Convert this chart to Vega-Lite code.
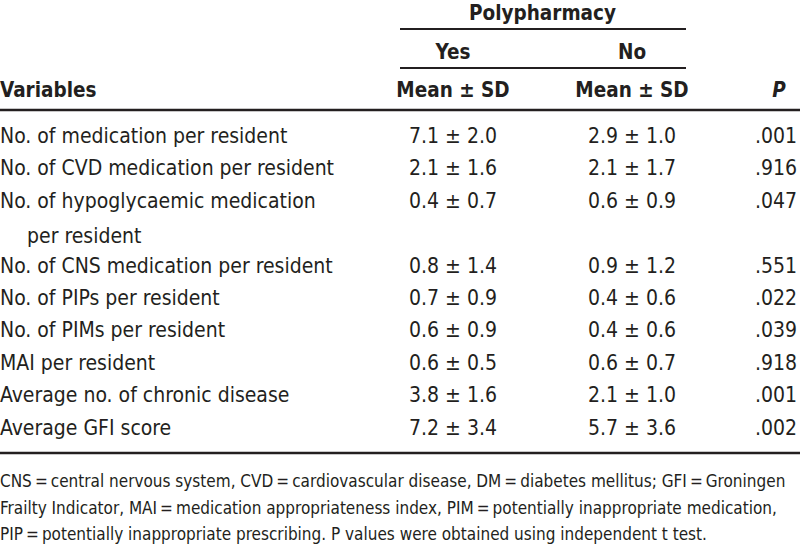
{
  "$schema": "https://vega.github.io/schema/vega-lite/v6.json",
  "width": 800,
  "height": 550,
  "padding": 0,
  "autosize": {"type": "none"},
  "background": "white",
  "config": {
    "view": {"stroke": null},
    "text": {"font": "DejaVu Sans Condensed, sans-serif", "color": "#231f20", "baseline": "alphabetic"}
  },
  "datasets": {
    "body": [
      {"line": 1, "variable": "No. of medication per resident", "continuation": "", "yes": "7.1 ± 2.0", "no": "2.9 ± 1.0", "p": ".001"},
      {"line": 2, "variable": "No. of CVD medication per resident", "continuation": "", "yes": "2.1 ± 1.6", "no": "2.1 ± 1.7", "p": ".916"},
      {"line": 3, "variable": "No. of hypoglycaemic medication", "continuation": "per resident", "yes": "0.4 ± 0.7", "no": "0.6 ± 0.9", "p": ".047"},
      {"line": 5, "variable": "No. of CNS medication per resident", "continuation": "", "yes": "0.8 ± 1.4", "no": "0.9 ± 1.2", "p": ".551"},
      {"line": 6, "variable": "No. of PIPs per resident", "continuation": "", "yes": "0.7 ± 0.9", "no": "0.4 ± 0.6", "p": ".022"},
      {"line": 7, "variable": "No. of PIMs per resident", "continuation": "", "yes": "0.6 ± 0.9", "no": "0.4 ± 0.6", "p": ".039"},
      {"line": 8, "variable": "MAI per resident", "continuation": "", "yes": "0.6 ± 0.5", "no": "0.6 ± 0.7", "p": ".918"},
      {"line": 9, "variable": "Average no. of chronic disease", "continuation": "", "yes": "3.8 ± 1.6", "no": "2.1 ± 1.0", "p": ".001"},
      {"line": 10, "variable": "Average GFI score", "continuation": "", "yes": "7.2 ± 3.4", "no": "5.7 ± 3.6", "p": ".002"}
    ],
    "header": [
      {"level": "group", "column": "Polypharmacy", "label": "Polypharmacy"},
      {"level": "arm", "column": "Yes", "label": "Yes"},
      {"level": "arm", "column": "No", "label": "No"},
      {"level": "stat", "column": "Variables", "label": "Variables"},
      {"level": "stat", "column": "Yes", "label": "Mean ± SD"},
      {"level": "stat", "column": "No", "label": "Mean ± SD"},
      {"level": "stat", "column": "P", "label": "P"}
    ],
    "notes": [
      {"line": 1, "text": "CNS\u2009=\u2009central nervous system, CVD\u2009=\u2009cardiovascular disease, DM\u2009=\u2009diabetes mellitus; GFI\u2009=\u2009Groningen"},
      {"line": 2, "text": "Frailty Indicator, MAI\u2009=\u2009medication appropriateness index, PIM\u2009=\u2009potentially inappropriate medication,"},
      {"line": 3, "text": "PIP\u2009=\u2009potentially inappropriate prescribing. P values were obtained using independent t test."}
    ]
  },
  "resolve": {"scale": {"y": "independent", "x": "independent"}},
  "layer": [
    {
      "data": {"name": "header"},
      "transform": [{"filter": "datum.column === 'Yes' || datum.column === 'No' || datum.column === 'Polypharmacy'"}],
      "mark": {"type": "text", "align": "center", "fontWeight": "bold", "fontSize": 20.5},
      "encoding": {
        "x": {"field": "column", "type": "nominal", "axis": null, "scale": {"type": "point", "domain": ["Yes", "Polypharmacy", "No"], "range": [453, 632], "padding": 0}},
        "y": {"field": "level", "type": "nominal", "axis": null, "scale": {"type": "point", "domain": ["group", "arm", "stat"], "range": [20, 97], "padding": 0}},
        "text": {"field": "label"}
      }
    },
    {
      "data": {"name": "header"},
      "transform": [{"filter": "datum.column === 'Variables'"}],
      "mark": {"type": "text", "align": "left", "fontWeight": "bold", "fontSize": 20.5},
      "encoding": {
        "x": {"datum": 0, "type": "quantitative", "axis": null, "scale": {"domain": [0, 800], "range": [0, 800], "zero": false, "nice": false}},
        "y": {"field": "level", "type": "nominal", "axis": null, "scale": {"type": "point", "domain": ["group", "arm", "stat"], "range": [20, 97], "padding": 0}},
        "text": {"field": "label"}
      }
    },
    {
      "data": {"name": "header"},
      "transform": [{"filter": "datum.column === 'P'"}],
      "mark": {"type": "text", "align": "center", "fontWeight": "bold", "fontStyle": "italic", "fontSize": 20.5},
      "encoding": {
        "x": {"datum": 779, "type": "quantitative", "axis": null, "scale": {"domain": [0, 800], "range": [0, 800], "zero": false, "nice": false}},
        "y": {"field": "level", "type": "nominal", "axis": null, "scale": {"type": "point", "domain": ["group", "arm", "stat"], "range": [20, 97], "padding": 0}},
        "text": {"field": "label"}
      }
    },
    {
      "data": {"name": "body"},
      "mark": {"type": "text", "align": "left", "fontSize": 21},
      "encoding": {
        "x": {"datum": 0, "type": "quantitative", "axis": null, "scale": {"domain": [0, 800], "range": [0, 800], "zero": false, "nice": false}},
        "y": {"field": "line", "type": "quantitative", "axis": null, "scale": {"domain": [1, 10], "range": [143, 434.6], "zero": false, "nice": false}},
        "text": {"field": "variable"}
      }
    },
    {
      "data": {"name": "body"},
      "transform": [{"filter": "datum.continuation !== ''"}],
      "mark": {"type": "text", "align": "left", "fontSize": 21, "dy": 35},
      "encoding": {
        "x": {"datum": 27, "type": "quantitative", "axis": null, "scale": {"domain": [0, 800], "range": [0, 800], "zero": false, "nice": false}},
        "y": {"field": "line", "type": "quantitative", "axis": null, "scale": {"domain": [1, 10], "range": [143, 434.6], "zero": false, "nice": false}},
        "text": {"field": "continuation"}
      }
    },
    {
      "data": {"name": "body"},
      "mark": {"type": "text", "align": "center", "fontSize": 21},
      "encoding": {
        "x": {"datum": 453, "type": "quantitative", "axis": null, "scale": {"domain": [0, 800], "range": [0, 800], "zero": false, "nice": false}},
        "y": {"field": "line", "type": "quantitative", "axis": null, "scale": {"domain": [1, 10], "range": [143, 434.6], "zero": false, "nice": false}},
        "text": {"field": "yes"}
      }
    },
    {
      "data": {"name": "body"},
      "mark": {"type": "text", "align": "center", "fontSize": 21},
      "encoding": {
        "x": {"datum": 632, "type": "quantitative", "axis": null, "scale": {"domain": [0, 800], "range": [0, 800], "zero": false, "nice": false}},
        "y": {"field": "line", "type": "quantitative", "axis": null, "scale": {"domain": [1, 10], "range": [143, 434.6], "zero": false, "nice": false}},
        "text": {"field": "no"}
      }
    },
    {
      "data": {"name": "body"},
      "mark": {"type": "text", "align": "right", "fontSize": 21},
      "encoding": {
        "x": {"datum": 797, "type": "quantitative", "axis": null, "scale": {"domain": [0, 800], "range": [0, 800], "zero": false, "nice": false}},
        "y": {"field": "line", "type": "quantitative", "axis": null, "scale": {"domain": [1, 10], "range": [143, 434.6], "zero": false, "nice": false}},
        "text": {"field": "p"}
      }
    },
    {
      "data": {"name": "notes"},
      "mark": {"type": "text", "align": "left", "fontSize": 17},
      "encoding": {
        "x": {"datum": 0, "type": "quantitative", "axis": null, "scale": {"domain": [0, 800], "range": [0, 800], "zero": false, "nice": false}},
        "y": {"field": "line", "type": "quantitative", "axis": null, "scale": {"domain": [1, 3], "range": [487, 540], "zero": false, "nice": false}},
        "text": {"field": "text"}
      }
    },
    {
      "data": {"values": [{"rule": "under Polypharmacy"}, {"rule": "under Yes/No"}]},
      "mark": {"type": "rule", "color": "#231f20", "strokeWidth": 2},
      "encoding": {
        "x": {"datum": 400, "type": "quantitative", "axis": null, "scale": {"domain": [0, 800], "range": [0, 800], "zero": false, "nice": false}},
        "x2": {"datum": 686},
        "y": {"field": "rule", "type": "nominal", "axis": null, "scale": {"type": "point", "domain": ["under Polypharmacy", "under Yes/No"], "range": [29, 68], "padding": 0}}
      }
    },
    {
      "data": {"values": [{"rule": "header bottom"}, {"rule": "table bottom"}]},
      "mark": {"type": "rule", "color": "#231f20", "strokeWidth": 2.5},
      "encoding": {
        "x": {"datum": 0, "type": "quantitative", "axis": null, "scale": {"domain": [0, 800], "range": [0, 800], "zero": false, "nice": false}},
        "x2": {"datum": 800},
        "y": {"field": "rule", "type": "nominal", "axis": null, "scale": {"type": "point", "domain": ["header bottom", "table bottom"], "range": [110, 453], "padding": 0}}
      }
    }
  ]
}
